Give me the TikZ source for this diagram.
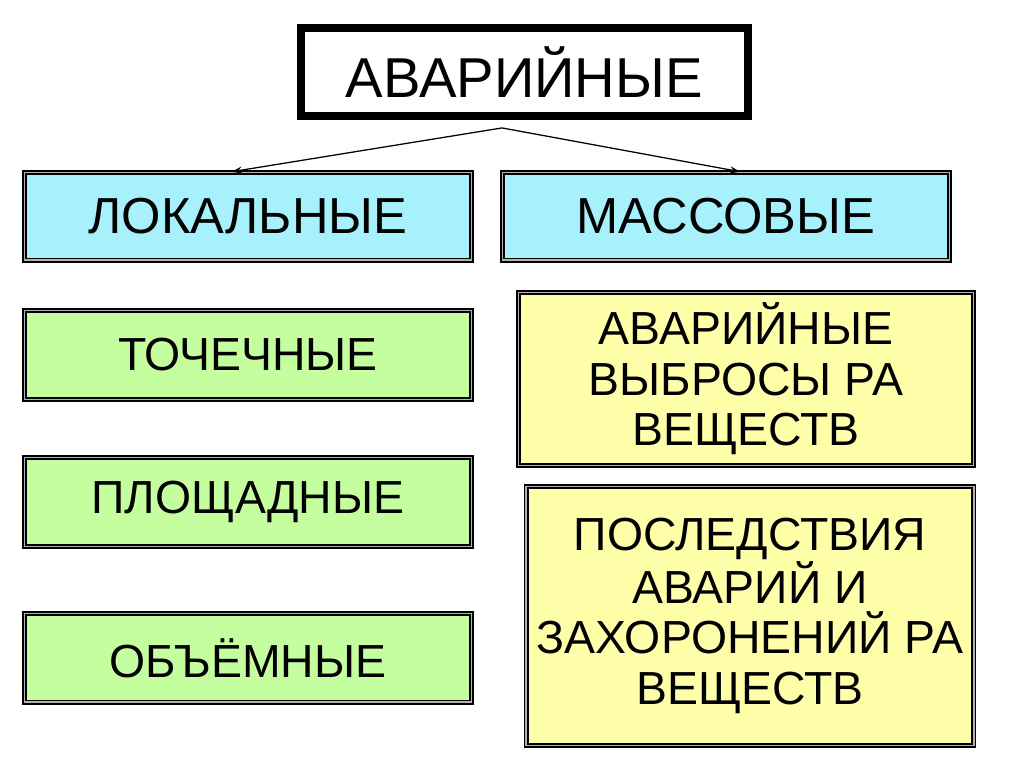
\documentclass[tikz,border=0pt]{standalone}
\usepackage{fontspec}
\setmainfont{Liberation Sans}
\usetikzlibrary{arrows.meta,positioning,calc}
\definecolor{ciano}{HTML}{A6F1FB}
\definecolor{verde}{HTML}{C5FE9F}
\definecolor{amarelo}{HTML}{FFFFA9}
\tikzset{
    bloco/.style={
        rectangle,
        draw=black,
        line width=1.3pt,
        double=gray!60,
        double distance=1.2pt,
        align=center,
        inner sep=0pt
    },
    raiz/.style={
        rectangle,
        draw,
        line width=5.6pt,
        fill=white,
        minimum width=11.18cm,
        minimum height=2.2cm,
        font=\fontsize{40}{44}\selectfont
    },
    tipo/.style={bloco, fill=ciano, minimum width=11.17cm, minimum height=2.19cm,
        font=\fontsize{36}{40}\selectfont},
    local/.style={bloco, fill=verde, minimum width=11.17cm, minimum height=2.22cm,
        font=\fontsize{33}{36}\selectfont},
    massa/.style={bloco, fill=amarelo, font=\fontsize{33}{36}\selectfont},
    fluxo/.style={-{Stealth[length=2.5mm,width=1.8mm]}, line width=0.9pt}
}

\begin{document}
\begin{tikzpicture}
        \useasboundingbox (0,0) rectangle (25.6,-19.175);
        \node[raiz] (avar) at (13.11,-1.8) {АВАРИЙНЫЕ};
        \node[tipo] (lokal) at (6.2,-5.41) {ЛОКАЛЬНЫЕ};
        \node[tipo] (massov) at (18.15,-5.41) {МАССОВЫЕ};
        \node[local] (toch) at (6.2,-8.875) {ТОЧЕЧНЫЕ};
        \node[local, below=1.41cm of toch] (ploshch) {ПЛОЩАДНЫЕ};
        \node[local, below=1.63cm of ploshch] (obem) {ОБЪЁМНЫЕ};
        \node[massa, minimum width=11.37cm, minimum height=4.32cm] (vybros)
            at (18.65,-9.475) {АВАРИЙНЫЕ\\ВЫБРОСЫ РА\\ВЕЩЕСТВ};
        \node[massa, minimum width=11.19cm, minimum height=6.47cm] (posled)
            at (18.75,-15.4) {ПОСЛЕДСТВИЯ\\АВАРИЙ И\\ЗАХОРОНЕНИЙ РА\\ВЕЩЕСТВ};
        \coordinate (ramo) at ([xshift=-0.56cm,yshift=-0.2cm]avar.south);
        \draw[fluxo] (ramo) -- ([xshift=-0.4cm]lokal.north);
        \draw[fluxo] (ramo) -- ([xshift=0.35cm]massov.north);
    \end{tikzpicture}
\end{document}
